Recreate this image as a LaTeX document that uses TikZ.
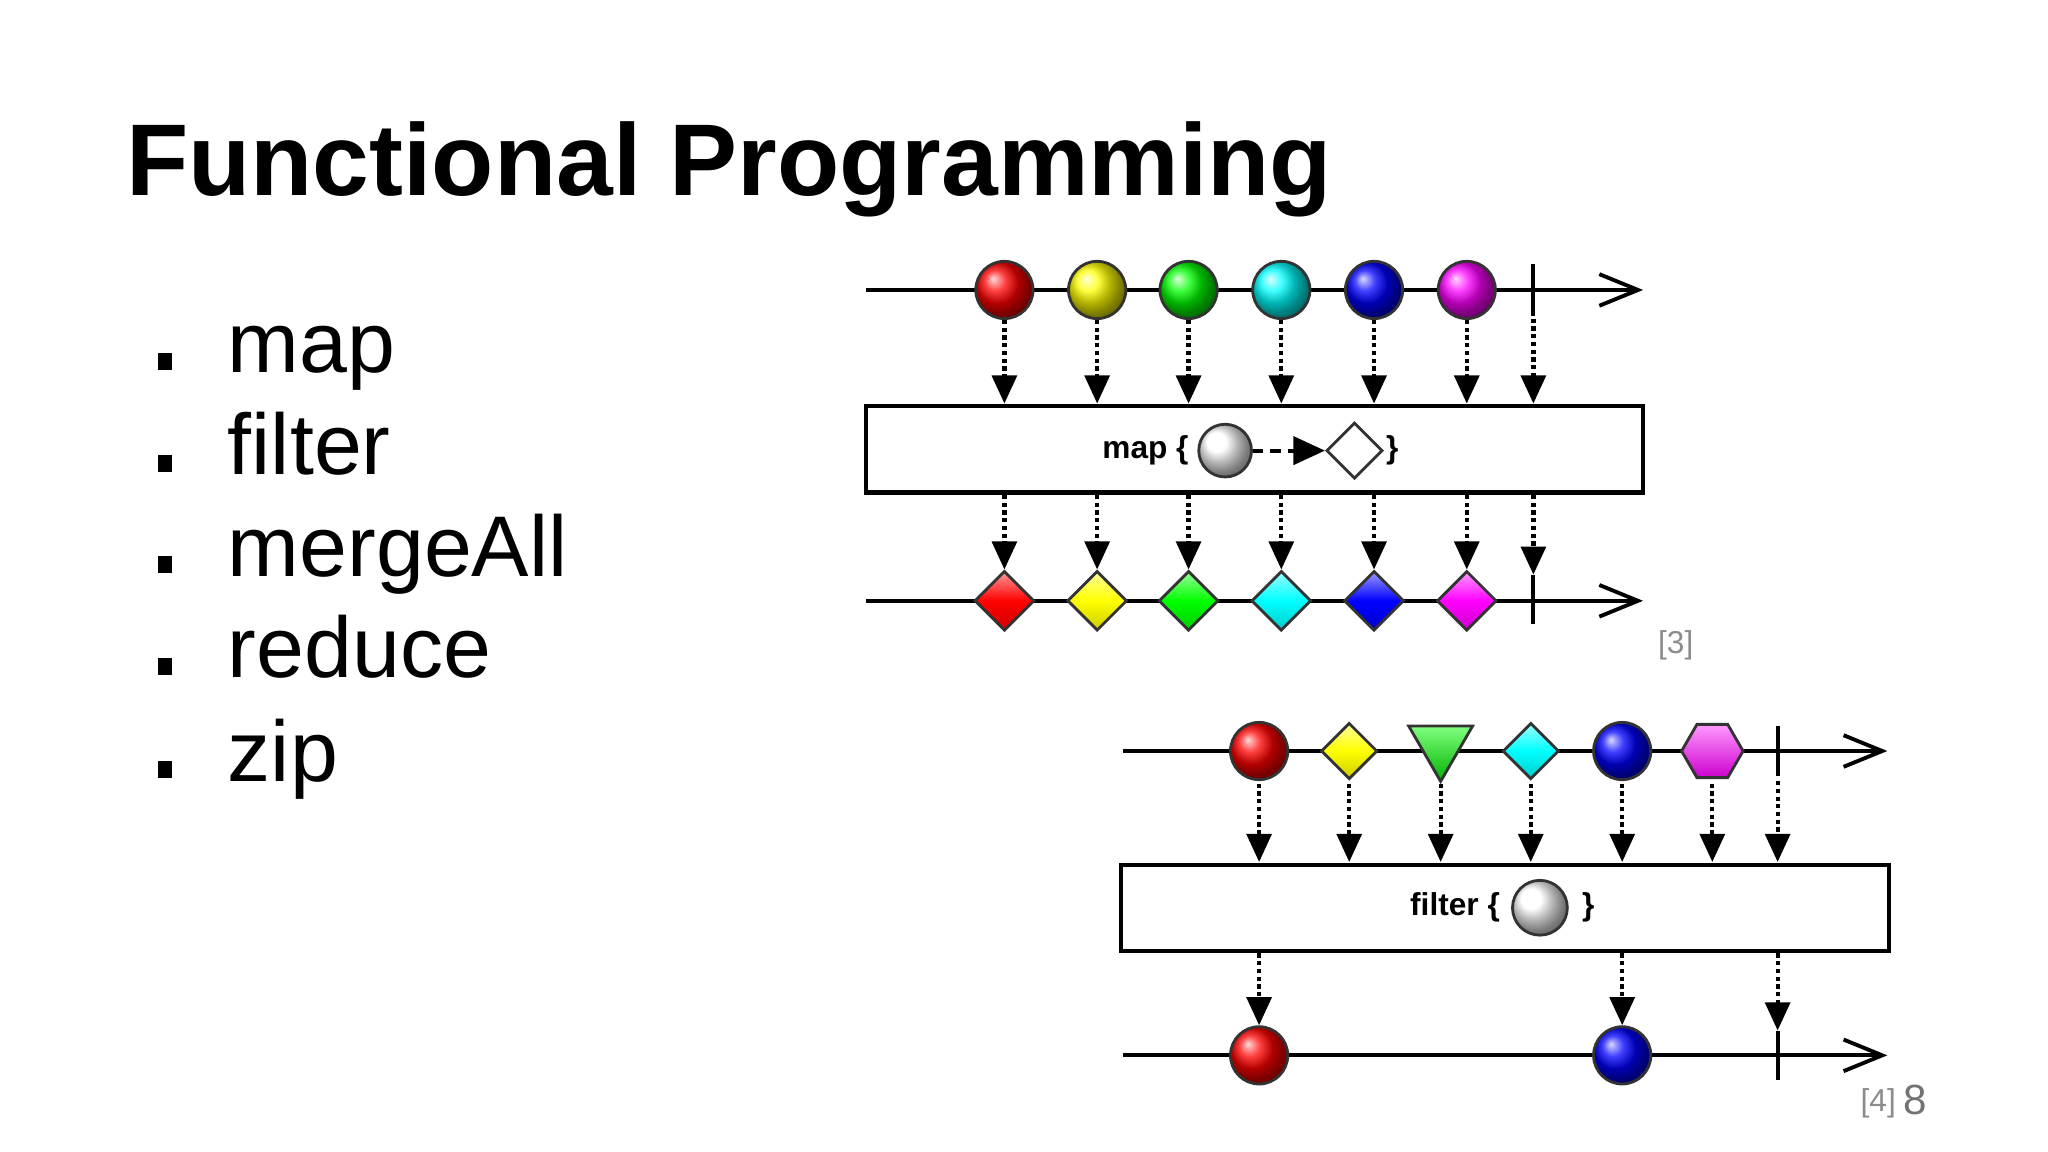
\documentclass[tikz,border=0pt]{standalone}
\usepackage{fontspec}
\setmainfont{Liberation Sans}
\usetikzlibrary{arrows.meta,shapes.geometric}
\begin{document}
\begin{tikzpicture}
[x=0.013061cm,y=-0.013061cm,
  lineDecorate/.style={-{Straight Barb[length=11pt,width=9pt]},line width=1.1pt},%
  dropDecorate/.style={densely dotted,line width=1.2pt,-{Triangle[length=8pt,width=7pt]}},
  ballDecorate/.style={shape=circle,minimum size=16.3pt,inner sep=0pt,draw=black!80,thick,shading=ball},
  diaDecorate/.style={shape=diamond,minimum size=17pt,inner sep=0pt,draw=black!80,thick},
  boxDecorate/.style={draw,line width=1.2pt,fill=white}]
\useasboundingbox (0,0) rectangle (1568,882);
%% title and bullets
\node (title) [anchor=base west,font=\fontsize{29}{34}\bfseries\selectfont] at (87,150) {Functional Programming};
\foreach \name/\word/\y in {b1/map/265,b2/filter/343,b3/mergeAll/421,b4/reduce/499,b5/zip/578}
{
  \node (\name) [anchor=base west,font=\fontsize{24.5}{28}\selectfont] at (165,\y+20) {\word};
  \fill (121,\y+5) rectangle (132,\y+18);
}
%% map diagram
\draw[boxDecorate] (663,311) rectangle (1258,377);
\node (maplabel) [font=\bfseries\small] at (877,345) {map \{};
\node (mapcirc) [ballDecorate,ball color=white,minimum size=15pt] at (938,345) {};
\node (mapdia) [diaDecorate,minimum size=16pt,fill=white] at (1037,345) {};
\node (mapclose) [font=\bfseries\small] at (1066,345) {\}};
\draw[densely dashed,line width=1.1pt,-{Triangle[length=9pt,width=8pt]}] (mapcirc) -- (mapdia);
\coordinate (inL) at (663,222); \coordinate (inR) at (1258,222);
\coordinate (outL) at (663,460); \coordinate (outR) at (1258,460);
\draw[lineDecorate] (inL) -- (inR);
\draw[lineDecorate] (outL) -- (outR);
\foreach \nodename/\x/\col in {
  1/769/red, 2/840/yellow, 3/910/green, 4/981/cyan, 5/1052/blue, 6/1123/magenta}
{
  \node (in\nodename) [ballDecorate,ball color=\col] at (\x,222) {};
  \node (out\nodename) [diaDecorate,top color=\col!40,bottom color=\col!80!black,middle color=\col] at (\x,460) {};
  \draw[dropDecorate] (in\nodename) -- (\x,309);
  \draw[dropDecorate] (\x,379) -- (out\nodename);
}
\draw[line width=1.1pt] (1174,202) -- (1174,242) (1174,440) -- (1174,478);
\draw[dropDecorate] (1174,244) -- (1174,309);
\draw[dropDecorate] (1174,379) -- (1174,440);
\node (ref3) [text=black!45,font=\small] at (1283,494) {[3]};
%% filter diagram
\draw[boxDecorate] (858,662) rectangle (1446,728);
\node (filtlabel) [font=\bfseries\small] at (1114,695) {filter \{};
\node (filtcirc) [ballDecorate,ball color=white,minimum size=15.6pt] at (1179,695) {};
\node (filtclose) [font=\bfseries\small] at (1216,695) {\}};
\coordinate (fL) at (860,575); \coordinate (fR) at (1445,575);
\coordinate (gL) at (860,808); \coordinate (gR) at (1445,808);
\draw[lineDecorate] (fL) -- (fR);
\draw[lineDecorate] (gL) -- (gR);
\node (f1) [ballDecorate,ball color=red] at (964,575) {};
\node (f2) [diaDecorate,minimum size=16pt,top color=yellow!40,bottom color=yellow!80!black,middle color=yellow] at (1033,575) {};
\node (f3) [shape=regular polygon,regular polygon sides=3,shape border rotate=180,minimum size=21pt,inner sep=0pt,draw=black!80,thick,top color=green!50,bottom color=green!70!black] at (1103,570) {};
\node (f4) [diaDecorate,minimum size=16pt,top color=cyan!40,bottom color=cyan!80!black,middle color=cyan] at (1172,575) {};
\node (f5) [ballDecorate,ball color=blue] at (1242,575) {};
\node (f6) [shape=regular polygon,regular polygon sides=6,minimum size=17.5pt,inner sep=0pt,draw=black!80,thick,top color=magenta!40,bottom color=magenta!80!black] at (1311,575) {};
\draw[line width=1.1pt] (1361,556) -- (1361,594) (1361,789) -- (1361,827);
\foreach \x/\nodename in {964/f1,1033/f2,1103/f3,1172/f4,1242/f5,1311/f6}
{
  \draw[dropDecorate] (\x,600) -- (\x,660);
}
\draw[dropDecorate] (1361,598) -- (1361,660);
\node (g1) [ballDecorate,ball color=red] at (964,808) {};
\node (g2) [ballDecorate,ball color=blue] at (1242,808) {};
\draw[dropDecorate] (964,730) -- (g1);
\draw[dropDecorate] (1242,730) -- (g2);
\draw[dropDecorate] (1361,730) -- (1361,789);
\node (ref4) [text=black!45,font=\small] at (1438,845) {[4]};
\node (pagenum) [text=black!55,font=\large] at (1466,842) {8};
\end{tikzpicture}
\end{document}
